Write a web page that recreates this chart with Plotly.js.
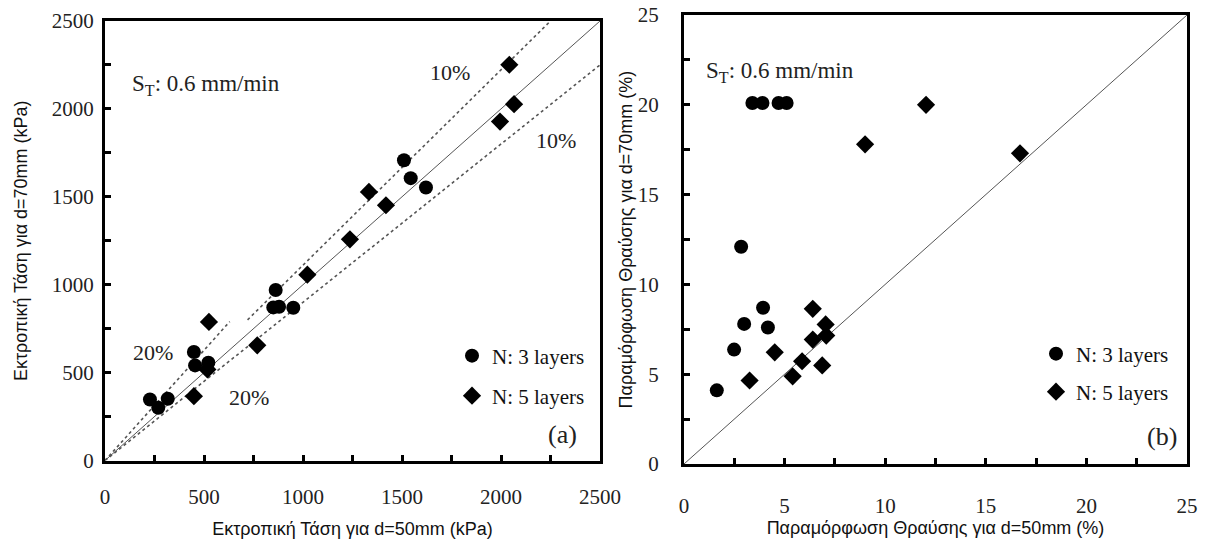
<!DOCTYPE html>
<html>
<head>
<meta charset="utf-8">
<script src="https://cdn.plot.ly/plotly-3.0.1.min.js"></script>
<style>html,body{margin:0;padding:0;background:#fff;}#chart{width:1206px;height:543px;}</style>
</head>
<body>
<div id="chart"></div>
<script>
// ---- Data (a): deviator stress, kPa ----
const stressN3_d50 = [227, 269, 317, 449, 455, 522, 862, 850, 879, 951, 1510, 1544, 1621];
const stressN3_d70 = [347, 300, 351, 617, 541, 556, 970, 871, 875, 869, 1708, 1606, 1553];
const stressN5_d50 = [525, 449, 517, 769, 1022, 1237, 1419, 1333, 1995, 2066, 2042];
const stressN5_d70 = [788, 366, 518, 655, 1057, 1258, 1452, 1528, 1928, 2027, 2251];
// reference lines (a)
const lineEqualA_X = [0, 2500];
const lineEqualA_Y = [0, 2500];
const lineUp20_X = [0, 630];
const lineUp20_Y = [0, 790];
const lineUp10_X = [720, 2250];
const lineUp10_Y = [800, 2500];
const lineLow_X = [0, 2500];
const lineLow_Y = [0, 2250];

// ---- Data (b): failure strain, % ----
const strainN3_d50 = [3.4, 3.9, 4.7, 5.1, 2.84, 3.93, 2.99, 4.17, 2.49, 1.63];
const strainN3_d70 = [20.1, 20.1, 20.1, 20.1, 12.1, 8.7, 7.8, 7.6, 6.37, 4.1];
const strainN5_d50 = [12.03, 9.0, 16.7, 6.4, 7.04, 6.4, 7.07, 4.51, 5.87, 6.87, 5.4, 3.26];
const strainN5_d70 = [20.0, 17.8, 17.3, 8.64, 7.77, 6.93, 7.15, 6.22, 5.72, 5.49, 4.88, 4.65];
const lineEqualB_X = [0, 25];
const lineEqualB_Y = [0, 25];

const seriesNames = ["N: 3 layers", "N: 5 layers"];
const titleA_x = "Εκτροπική Τάση για d=50mm (kPa)";
const titleA_y = "Εκτροπική Τάση για d=70mm (kPa)";
const titleB_x = "Παραμόρφωση Θραύσης για d=50mm (%)";
const titleB_y = "Παραμόρφωση Θραύσης για d=70mm (%)";

const W = 1206, H = 543;
const px = v => v / W;
const py = v => 1 - v / H;

const serif = "Liberation Serif, Times New Roman, serif";
const sans = "Liberation Sans, Arial, sans-serif";
const gridLine = {color: "#555", width: 1};
const dotLine = {color: "#555", width: 1.6, dash: "dot"};
const titleFont = {family: sans, size: 18, color: "#111"};

const traces = [
  {x: lineEqualA_X, y: lineEqualA_Y, xaxis: "x", yaxis: "y", mode: "lines", line: gridLine, showlegend: false, hoverinfo: "skip"},
  {x: lineUp20_X, y: lineUp20_Y, xaxis: "x", yaxis: "y", mode: "lines", line: dotLine, showlegend: false, hoverinfo: "skip"},
  {x: lineUp10_X, y: lineUp10_Y, xaxis: "x", yaxis: "y", mode: "lines", line: dotLine, showlegend: false, hoverinfo: "skip"},
  {x: lineLow_X, y: lineLow_Y, xaxis: "x", yaxis: "y", mode: "lines", line: dotLine, showlegend: false, hoverinfo: "skip"},
  {x: stressN3_d50, y: stressN3_d70, xaxis: "x", yaxis: "y", mode: "markers", name: seriesNames[0], legend: "legend",
   marker: {symbol: "circle", size: 14, color: "#000"}},
  {x: stressN5_d50, y: stressN5_d70, xaxis: "x", yaxis: "y", mode: "markers", name: seriesNames[1], legend: "legend2",
   marker: {symbol: "diamond", size: 14, color: "#000"}},

  {x: lineEqualB_X, y: lineEqualB_Y, xaxis: "x2", yaxis: "y2", mode: "lines", line: gridLine, showlegend: false, hoverinfo: "skip"},
  {x: strainN3_d50, y: strainN3_d70, xaxis: "x2", yaxis: "y2", mode: "markers", name: seriesNames[0], legend: "legend3",
   marker: {symbol: "circle", size: 14, color: "#000"}},
  {x: strainN5_d50, y: strainN5_d70, xaxis: "x2", yaxis: "y2", mode: "markers", name: seriesNames[1], legend: "legend4",
   marker: {symbol: "diamond", size: 14, color: "#000"}}
];

const axisCommon = {
  showline: true, mirror: true, linecolor: "#000", linewidth: 3,
  ticks: "inside", ticklen: 6, tickwidth: 3, tickcolor: "#000",
  showgrid: false, zeroline: false, automargin: false,
  tickfont: {family: serif, size: 21, color: "#222"}
};

function legendAt(xpx, ypx) {
  return {x: px(xpx), y: py(ypx), xanchor: "left", yanchor: "middle",
    bgcolor: "rgba(0,0,0,0)", borderwidth: 0, itemwidth: 30,
    font: {family: serif, size: 21, color: "#111"}, tracegroupgap: 0};
}

function ann(text, xpx, ypx, size, anchor) {
  return {text: text, xref: "paper", yref: "paper", x: px(xpx), y: py(ypx),
    xanchor: anchor || "center", yanchor: "middle", showarrow: false,
    font: {family: serif, size: size || 22, color: "#222"}};
}

const layout = {
  width: W, height: H,
  margin: {l: 0, r: 0, t: 0, b: 0},
  paper_bgcolor: "#fff", plot_bgcolor: "#fff",
  showlegend: true,
  xaxis: Object.assign({}, axisCommon, {
    domain: [px(105), px(600)], anchor: "y", range: [0, 2500], dtick: 500, tick0: 0,
    minor: {dtick: 250, ticks: "inside", ticklen: 6, tickwidth: 3, tickcolor: "#000"},
    ticklabelstandoff: 15,
    title: {text: titleA_x, font: titleFont, standoff: 15}
  }),
  yaxis: Object.assign({}, axisCommon, {
    domain: [1 - 460.5 / H, 1 - 21 / H], anchor: "x", range: [0, 2500], dtick: 500, tick0: 0,
    minor: {dtick: 250, ticks: "inside", ticklen: 6, tickwidth: 3, tickcolor: "#000"},
    ticklabelstandoff: 4,
    title: {text: titleA_y, font: titleFont, standoff: 20}
  }),
  xaxis2: Object.assign({}, axisCommon, {
    domain: [px(684), px(1187)], anchor: "y2", range: [0, 25], dtick: 5, tick0: 0,
    minor: {dtick: 2.5, ticks: "inside", ticklen: 6, tickwidth: 3, tickcolor: "#000"},
    ticklabelstandoff: 21,
    title: {text: titleB_x, font: titleFont, standoff: 3}
  }),
  yaxis2: Object.assign({}, axisCommon, {
    domain: [1 - 464 / H, 1 - 15 / H], anchor: "x2", range: [0, 25], dtick: 5, tick0: 0,
    minor: {dtick: 2.5, ticks: "inside", ticklen: 6, tickwidth: 3, tickcolor: "#000"},
    ticklabelstandoff: 18,
    title: {text: titleB_y, font: titleFont, standoff: 1}
  }),
  legend: legendAt(452, 356),
  legend2: legendAt(452, 396),
  legend3: legendAt(1036, 354),
  legend4: legendAt(1036, 392),
  annotations: [
    ann("S<sub>T</sub>: 0.6 mm/min", 130, 85, 23, "left"),
    ann("S<sub>T</sub>: 0.6 mm/min", 704, 72, 23, "left"),
    ann("10%", 450, 72, 22),
    ann("10%", 556, 140, 22),
    ann("20%", 153, 352, 22),
    ann("20%", 249, 397, 22),
    ann("(a)", 562, 434, 26),
    ann("(b)", 1162, 436, 26)
  ]
};

Plotly.newPlot("chart", traces, layout, {staticPlot: true, displayModeBar: false});
</script>
</body>
</html>
